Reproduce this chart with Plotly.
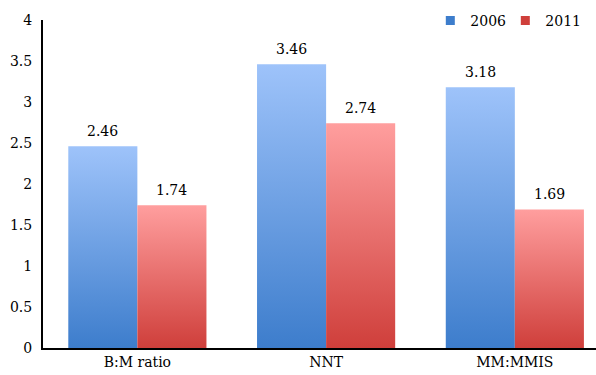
import plotly.graph_objects as go

categories = ["B:M ratio", "NNT", "MM:MMIS"]
years = ["2006", "2011"]
values_2006 = [2.46, 3.46, 3.18]
values_2011 = [1.74, 2.74, 1.69]
y_ticks = [0, 0.5, 1, 1.5, 2, 2.5, 3, 3.5, 4]
y_tick_labels = ["0", "0.5", "1", "1.5", "2", "2.5", "3", "3.5", "4"]

series = [
    (years[0], values_2006, "#3D7DCC", "#9EC3FA", -1),
    (years[1], values_2011, "#CF3F3B", "#FF9E9E", 0),
]
BAR_W = 0.366
FONT = "DejaVu Serif, Liberation Serif, serif"
FS = 14

fig = go.Figure()
annotations = []
for name, vals, dark, light, off in series:
    for i, v in enumerate(vals):
        x0 = i + off * BAR_W
        x1 = x0 + BAR_W
        fig.add_trace(go.Scatter(
            x=[x0, x0, x1, x1, x0], y=[0, v, v, 0, 0],
            mode="lines", fill="toself",
            fillgradient=dict(type="vertical", colorscale=[[0, dark], [1, light]]),
            line=dict(width=0, color=light),
            hoverinfo="skip", showlegend=False,
        ))
        annotations.append(dict(
            x=x0 + BAR_W / 2, y=v, xref="x", yref="y", text=f"{v:.2f}",
            showarrow=False, yanchor="bottom", yshift=5,
            font=dict(family=FONT, size=FS, color="#000"),
        ))
    fig.add_trace(go.Scatter(
        x=[None], y=[None], mode="markers", name=name,
        marker=dict(symbol="square", size=9, color=dark, line=dict(width=0)),
        showlegend=True,
    ))

fig.update_layout(
    width=596, height=375,
    margin=dict(l=43, r=0, t=20, b=27, autoexpand=False),
    paper_bgcolor="white", plot_bgcolor="white",
    font=dict(family=FONT, size=FS, color="#000"),
    showlegend=True,
    annotations=annotations,
    legend=dict(orientation="h", xref="container", yref="container",
                x=0.722, y=0.944, xanchor="left", yanchor="middle",
                font=dict(family=FONT, size=FS), entrywidth=30,
                bgcolor="rgba(0,0,0,0)"),
    xaxis=dict(range=[-0.5, 2.43], tickvals=[0, 1, 2], ticktext=categories,
               showgrid=False, zeroline=False, showline=True, linecolor="#000",
               linewidth=2, ticks="", tickfont=dict(family=FONT, size=FS)),
    yaxis=dict(range=[0, 4], tickvals=y_ticks, ticktext=y_tick_labels,
               showgrid=False, zeroline=False, showline=True, linecolor="#000",
               linewidth=2, ticks="", ticklabelstandoff=6,
               tickfont=dict(family=FONT, size=FS)),
)

fig.write_html("out.html")
